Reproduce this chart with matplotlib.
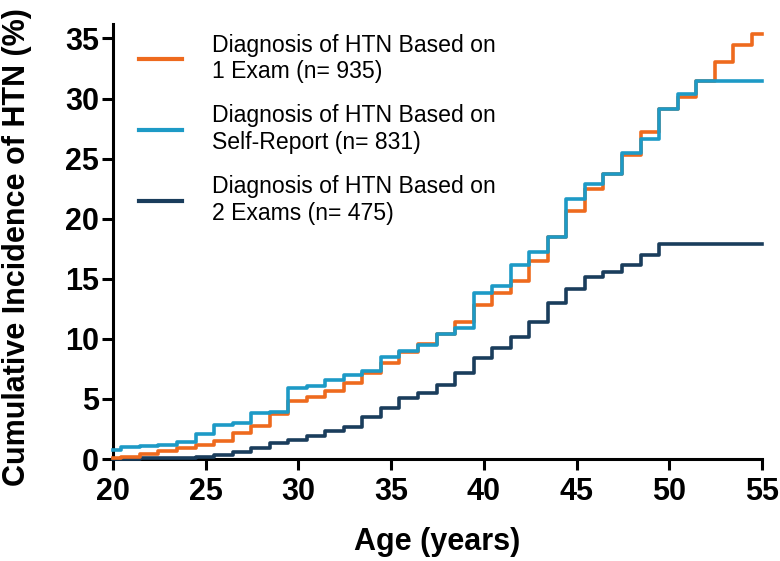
import matplotlib
matplotlib.use("Agg")
from matplotlib import pyplot as plt

# Age at which each step happens
step_ages = [20, 20.45, 21.45, 22.45, 23.45, 24.45, 25.45, 26.45, 27.45, 28.45,
             29.45, 30.45, 31.45, 32.45, 33.45, 34.45, 35.45, 36.45, 37.45, 38.45,
             39.45, 40.45, 41.45, 42.45, 43.45, 44.45, 45.45, 46.45, 47.45, 48.45,
             49.45, 50.45, 51.45, 52.45, 53.45, 54.45, 55]

# Cumulative incidence (%) after each step
one_exam = [0.1, 0.2, 0.42, 0.69, 0.89, 1.17, 1.5, 2.14, 2.78, 3.72,
            4.8, 5.2, 5.69, 6.3, 7.19, 7.97, 8.94, 9.55, 10.39, 11.44,
            12.83, 13.78, 14.85, 16.47, 18.47, 20.61, 22.47, 23.75, 25.3, 27.22,
            29.14, 30.14, 31.44, 33.03, 34.44, 35.33, 35.33]
self_report = [0.75, 1.0, 1.08, 1.2, 1.4, 2.1, 2.8, 3.0, 3.8, 3.9,
               5.95, 6.1, 6.6, 6.95, 7.35, 8.5, 8.95, 9.5, 10.4, 10.9,
               13.8, 14.42, 16.17, 17.2, 18.5, 21.65, 22.85, 23.75, 25.47, 26.6,
               29.15, 30.35, 31.45, 31.45, 31.45, 31.45, 31.45]
two_exams = [0.0, 0.02, 0.05, 0.08, 0.1, 0.15, 0.33, 0.61, 0.89, 1.31,
             1.6, 1.92, 2.36, 2.69, 3.53, 4.22, 5.06, 5.47, 6.2, 7.17,
             8.39, 9.22, 10.14, 11.44, 12.97, 14.14, 15.14, 15.6, 16.17, 17.0,
             17.92, 17.92, 17.92, 17.92, 17.92, 17.92, 17.92]

labels = ["Diagnosis of HTN Based on\n1 Exam (n= 935)",
          "Diagnosis of HTN Based on\nSelf-Report (n= 831)",
          "Diagnosis of HTN Based on\n2 Exams (n= 475)"]
colors = ["#EE6A1E", "#1D9AC6", "#1A3D5C"]

x_ticks = [20, 25, 30, 35, 40, 45, 50, 55]
y_ticks = [0, 5, 10, 15, 20, 25, 30, 35]

plt.rcParams['font.family'] = ['Liberation Sans', 'DejaVu Sans']

fig = plt.figure(figsize=(7.8, 5.61), dpi=100)
ax = fig.add_axes([0.1449, 0.1818, 0.832, 0.7754])

# navy first, blue on top
l3, = ax.step(step_ages, two_exams, where="post", color=colors[2], lw=2.6, clip_on=False, zorder=3)
l1, = ax.step(step_ages, one_exam, where="post", color=colors[0], lw=2.6, clip_on=False, zorder=4)
l2, = ax.step(step_ages, self_report, where="post", color=colors[1], lw=2.6, clip_on=False, zorder=5)

ax.set_xlim(20, 55)
ax.set_ylim(0, 36.2)
ax.set_xticks(x_ticks)
ax.set_yticks(y_ticks)

for s in ["top", "right"]:
    ax.spines[s].set_visible(False)
for s in ["left", "bottom"]:
    ax.spines[s].set_linewidth(2.2)
    ax.spines[s].set_zorder(2)

ax.tick_params(axis="both", direction="out", length=8, width=2.2, labelsize=22)
ax.tick_params(axis="y", pad=2)
ax.tick_params(axis="x", pad=5)
for lab in ax.get_xticklabels() + ax.get_yticklabels():
    lab.set_fontweight("bold")

ax.set_xlabel("Age (years)", fontsize=22, fontweight="bold", labelpad=14)
ax.set_ylabel("Cumulative Incidence of HTN (%)", fontsize=22, fontweight="bold")
ax.yaxis.set_label_coords(-0.125, 0.487)

leg = ax.legend([l1, l2, l3], labels, loc="upper left", bbox_to_anchor=(0.015, 1.015),
                frameon=False, fontsize=16.6, handlelength=1.85, handletextpad=1.3,
                labelspacing=0.92, borderaxespad=0.3)
for h in leg.get_lines():
    h.set_linewidth(3)

fig.savefig("out.png", dpi=100)
